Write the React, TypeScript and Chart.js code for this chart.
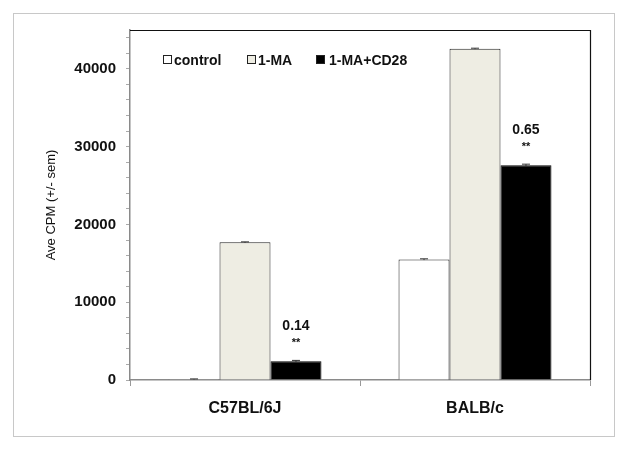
import React, { useEffect, useRef } from "react";
import { Chart, registerables } from "chart.js";

Chart.register(...registerables);

const categories = ["C57BL/6J", "BALB/c"];
const seriesNames = ["control", "1-MA", "1-MA+CD28"];
const controlValues = [100, 15500];
const maValues = [17700, 42600];
const maCd28Values = [2400, 27600];
const controlSem = [40, 80];
const maSem = [60, 60];
const maCd28Sem = [120, 150];
const ratioLabels = ["0.14", "0.65"];
const sigLabels = ["**", "**"];
const yTickLabels = [0, 10000, 20000, 30000, 40000];
const yMinorTicks = [
  0, 2000, 4000, 6000, 8000, 10000, 12000, 14000, 16000, 18000, 20000, 22000,
  24000, 26000, 28000, 30000, 32000, 34000, 36000, 38000, 40000, 42000, 44000,
];
const yMax = 45000;

const FONT = "Arial, 'Liberation Sans', sans-serif";

const semSets = [controlSem, maSem, maCd28Sem];

const framePlugin = {
  id: "frame",
  beforeDraw(chart: any) {
    const ctx = chart.ctx;
    ctx.save();
    ctx.fillStyle = "#ffffff";
    ctx.fillRect(0, 0, chart.width, chart.height);
    ctx.strokeStyle = "#c8c8c8";
    ctx.lineWidth = 1;
    ctx.strokeRect(13.5, 13.5, 601, 423);
    ctx.restore();
  },
  afterDraw(chart: any) {
    const { ctx, chartArea } = chart;
    ctx.save();
    ctx.strokeStyle = "#111111";
    ctx.lineWidth = 1.2;
    ctx.beginPath();
    ctx.moveTo(chartArea.left, chartArea.top + 0.5);
    ctx.lineTo(chartArea.right + 0.5, chartArea.top + 0.5);
    ctx.lineTo(chartArea.right + 0.5, chartArea.bottom);
    ctx.stroke();

    // legend inside plot
    const items = chart.data.datasets;
    const boxX = [163, 247, 316];
    const textX = [174, 258, 329];
    const yc = 60;
    ctx.font = `bold 14px ${FONT}`;
    ctx.textBaseline = "middle";
    ctx.textAlign = "left";
    items.forEach((ds: any, i: number) => {
      ctx.fillStyle = ds.backgroundColor;
      ctx.fillRect(boxX[i], yc - 4, 8, 8);
      ctx.strokeStyle = "#222";
      ctx.lineWidth = 1;
      ctx.strokeRect(boxX[i] + 0.5, yc - 4.5, 8, 8);
      ctx.fillStyle = "#111";
      ctx.fillText(ds.label, textX[i], yc + 1);
    });
    ctx.restore();
  },
};

const errorBarPlugin = {
  id: "errorBars",
  afterDatasetsDraw(chart: any) {
    const { ctx } = chart;
    const y = chart.scales.y;
    ctx.save();
    ctx.strokeStyle = "#333";
    ctx.lineWidth = 1;
    chart.data.datasets.forEach((ds: any, i: number) => {
      const meta = chart.getDatasetMeta(i);
      meta.data.forEach((bar: any, j: number) => {
        const v = ds.data[j];
        const e = semSets[i][j];
        const yt = y.getPixelForValue(v + e);
        const yb = y.getPixelForValue(v - e);
        ctx.beginPath();
        ctx.moveTo(bar.x, yb);
        ctx.lineTo(bar.x, yt);
        ctx.moveTo(bar.x - 4, yt);
        ctx.lineTo(bar.x + 4, yt);
        ctx.stroke();
      });
    });

    // annotations above the 1-MA+CD28 bars
    const meta = chart.getDatasetMeta(2);
    ctx.fillStyle = "#111";
    ctx.textAlign = "center";
    ctx.textBaseline = "middle";
    meta.data.forEach((bar: any, j: number) => {
      ctx.font = `bold 14px ${FONT}`;
      ctx.fillText(ratioLabels[j], bar.x, bar.y - 35);
      ctx.font = `bold 11px ${FONT}`;
      ctx.fillText(sigLabels[j], bar.x, bar.y - 18);
    });
    ctx.restore();
  },
};

export default function App() {
  const ref = useRef<HTMLCanvasElement | null>(null);

  useEffect(() => {
    document.body.style.margin = "0";
    if (!ref.current) return;
    const chart = new Chart(ref.current, {
      type: "bar",
      data: {
        labels: categories,
        datasets: [
          {
            label: seriesNames[0],
            data: controlValues,
            backgroundColor: "#ffffff",
            borderColor: "#222222",
            borderWidth: 1,
          },
          {
            label: seriesNames[1],
            data: maValues,
            backgroundColor: "#eeede3",
            borderColor: "#222222",
            borderWidth: 1,
          },
          {
            label: seriesNames[2],
            data: maCd28Values,
            backgroundColor: "#000000",
            borderColor: "#000000",
            borderWidth: 1,
          },
        ],
      },
      options: {
        animation: false,
        responsive: false,
        maintainAspectRatio: false,
        layout: { padding: { left: 44, right: 34, top: 30, bottom: 0 } },
        datasets: {
          bar: { categoryPercentage: 0.665, barPercentage: 1.0 },
        },
        plugins: {
          legend: { display: false },
          tooltip: { enabled: false },
        },
        scales: {
          x: {
            offset: true,
            grid: {
              display: true,
              drawOnChartArea: false,
              offset: true,
              tickLength: 6,
              color: "#999999",
            },
            border: { color: "#8a8a8a", width: 1.5 },
            ticks: {
              color: "#111",
              font: { family: FONT, size: 16, weight: "bold" },
              padding: 13,
            },
            afterFit(scale: any) {
              scale.height = 70;
            },
          },
          y: {
            min: 0,
            max: yMax,
            afterBuildTicks(scale: any) {
              scale.ticks = yMinorTicks.map((v) => ({ value: v }));
            },
            grid: {
              display: true,
              drawOnChartArea: false,
              tickLength: 4,
              color: "#aaaaaa",
            },
            border: { color: "#8a8a8a", width: 1.5 },
            ticks: {
              autoSkip: false,
              padding: 10,
              color: "#111",
              font: { family: FONT, size: 15, weight: "bold" },
              callback: (v: any) =>
                yTickLabels.includes(Number(v)) ? String(v) : "",
            },
            title: {
              display: true,
              text: "Ave CPM (+/- sem)",
              color: "#111",
              font: { family: FONT, size: 13 },
              padding: 0,
            },
            afterFit(scale: any) {
              scale.width = 86;
            },
          },
        },
      },
      plugins: [framePlugin, errorBarPlugin],
    } as any);
    return () => chart.destroy();
  }, []);

  return (
    <div style={{ width: 624, height: 450 }}>
      <canvas ref={ref} width={624} height={450} style={{ display: "block" }} />
    </div>
  );
}
